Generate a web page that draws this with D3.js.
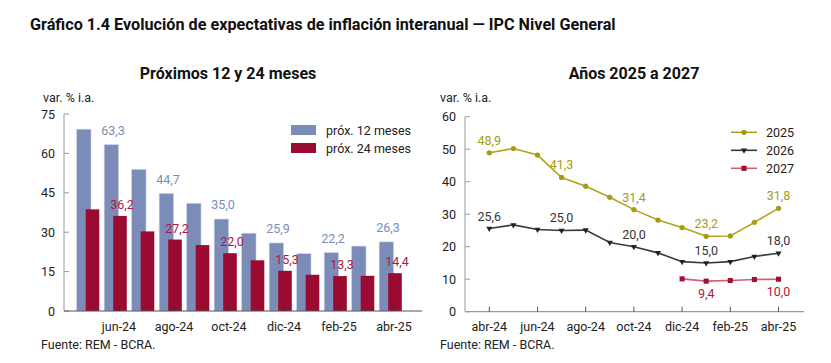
<!DOCTYPE html>
<html>
<head>
<meta charset="utf-8">
<script src="https://cdn.jsdelivr.net/npm/d3@7"></script>
<style>
  body { margin: 0; background: #fff; }
  svg { font-family: Roboto, "Noto Sans", sans-serif; }
</style>
</head>
<body>
<svg id="chart" width="831" height="363"></svg>
<script>
// data
var barMonths = ["may-24", "jun-24", "jul-24", "ago-24", "sep-24", "oct-24", "nov-24", "dic-24", "ene-25", "feb-25", "mar-25", "abr-25"];
var prox12 = [69.2, 63.3, 53.9, 44.7, 41.0, 35.0, 29.6, 25.9, 21.8, 22.2, 24.7, 26.3];
var prox24 = [38.7, 36.2, 30.3, 27.2, 25.1, 22.0, 19.3, 15.3, 13.8, 13.3, 13.4, 14.4];
var barTicks = [0, 15, 30, 45, 60, 75];

var lineMonths = ["abr-24", "may-24", "jun-24", "jul-24", "ago-24", "sep-24", "oct-24", "nov-24", "dic-24", "ene-25", "feb-25", "mar-25", "abr-25"];
var y2025 = [48.9, 50.2, 48.2, 41.3, 38.6, 35.2, 31.4, 28.2, 25.9, 23.2, 23.3, 27.5, 31.8];
var y2026 = [25.6, 26.7, 25.3, 25.0, 25.1, 21.3, 20.0, 18.1, 15.4, 15.0, 15.4, 17.0, 18.0];
var y2027 = [null, null, null, null, null, null, null, null, 10.1, 9.4, 9.6, 9.9, 10.0];
var lineTicks = [0, 10, 20, 30, 40, 50, 60];

var BLUE = "#7b8cb8", RED = "#9b0a30";
var OLIVE = "#b0a41c", DARK = "#3a3a3a", PINK = "#cf5d79";

var svg = d3.select("#chart");

svg.append("text")
    .attr("x", 30).attr("y", 30)
    .style("font-size", "16.2px").style("font-weight", "bold").style("fill", "#111")
    .text("Gráfico 1.4 Evolución de expectativas de inflación interanual — IPC Nivel General");

function subtitle(x, txt) {
    svg.append("text")
        .attr("x", x).attr("y", 79)
        .attr("text-anchor", "middle")
        .style("font-size", "16px").style("font-weight", "bold").style("fill", "#111")
        .text(txt);
}
subtitle(228, "Próximos 12 y 24 meses");
subtitle(634, "Años 2025 a 2027");

function smallText(x, y, txt, anchor, color) {
    return svg.append("text")
        .attr("x", x).attr("y", y)
        .attr("text-anchor", anchor || "start")
        .style("font-size", "12.5px").style("fill", color || "#222")
        .text(txt);
}

// ---------- left chart: bars ----------
var yL = d3.scaleLinear().domain([0, 75]).range([311, 114]);
var xL = d3.scalePoint().domain(barMonths).range([91.5, 394]);

smallText(43, 102, "var. % i.a.");

var left = svg.append("g");

left.selectAll(".b12")
    .data(barMonths)
    .enter().append("rect")
    .attr("class", "b12")
    .attr("x", function (d) { return xL(d) - 14.8; })
    .attr("y", function (d, i) { return yL(prox12[i]); })
    .attr("width", 14.3)
    .attr("height", function (d, i) { return yL(0) - yL(prox12[i]); })
    .style("fill", BLUE)
    .style("stroke", "#c6cde0").style("stroke-width", 0.6);

left.selectAll(".b24")
    .data(barMonths)
    .enter().append("rect")
    .attr("class", "b24")
    .attr("x", function (d) { return xL(d) - 5.8; })
    .attr("y", function (d, i) { return yL(prox24[i]); })
    .attr("width", 13.6)
    .attr("height", function (d, i) { return yL(0) - yL(prox24[i]); })
    .style("fill", RED);

// value labels every other month
barMonths.forEach(function (m, i) {
    if (i % 2 == 1) {
        smallText(xL(m) - 6, yL(prox12[i]) - 10, d3.format(".1f")(prox12[i]).replace(".", ","), "middle", BLUE);
        smallText(xL(m) + 3, yL(prox24[i]) - 7, d3.format(".1f")(prox24[i]).replace(".", ","), "middle", "#b0163f");
    }
});

// y axis
left.append("line").attr("x1", 64).attr("x2", 64).attr("y1", yL(75)).attr("y2", yL(0))
    .style("stroke", "#9a9a9a").style("stroke-width", 1);
barTicks.forEach(function (t) {
    left.append("line").attr("x1", 64).attr("x2", 69).attr("y1", yL(t)).attr("y2", yL(t))
        .style("stroke", "#9a9a9a");
    smallText(55, yL(t) + 4.5, t, "end");
});
// x axis
left.append("line").attr("x1", 64).attr("x2", 422).attr("y1", yL(0)).attr("y2", yL(0))
    .style("stroke", "#555").style("stroke-width", 1.2);
barMonths.forEach(function (m, i) {
    if (i % 2 == 1) {
        left.append("line").attr("x1", xL(m)).attr("x2", xL(m)).attr("y1", yL(0)).attr("y2", yL(0) - 5)
            .style("stroke", "#333");
        smallText(xL(m), 331, m, "middle");
    }
});

// legend
var legL = [["próx. 12 meses", BLUE], ["próx. 24 meses", RED]];
legL.forEach(function (d, i) {
    var yy = 130 + i * 18;
    left.append("rect").attr("x", 291).attr("y", yy - 5).attr("width", 25).attr("height", 10).style("fill", d[1]);
    smallText(326, yy + 4.5, d[0]);
});

smallText(41, 349, "Fuente: REM - BCRA.");

// ---------- right chart: lines ----------
var yR = d3.scaleLinear().domain([0, 60]).range([311.7, 116.7]);
var xR = d3.scalePoint().domain(lineMonths).range([489.3, 778.5]);

smallText(440, 102, "var. % i.a.");

var right = svg.append("g");

right.append("line").attr("x1", 465).attr("x2", 465).attr("y1", yR(60)).attr("y2", yR(0))
    .style("stroke", "#9a9a9a");
lineTicks.forEach(function (t) {
    right.append("line").attr("x1", 465).attr("x2", 470).attr("y1", yR(t)).attr("y2", yR(t))
        .style("stroke", "#9a9a9a");
    smallText(456, yR(t) + 4.5, t, "end");
});
right.append("line").attr("x1", 465).attr("x2", 804).attr("y1", yR(0)).attr("y2", yR(0))
    .style("stroke", "#999").style("stroke-width", 1.2);
lineMonths.forEach(function (m, i) {
    if (i % 2 == 0) {
        right.append("line").attr("x1", xR(m)).attr("x2", xR(m)).attr("y1", yR(0)).attr("y2", yR(0) - 5)
            .style("stroke", "#555");
        smallText(xR(m), 331, m, "middle");
    }
});

var series = [
    { name: "2025", values: y2025, line: OLIVE, mark: "#a89a12", symbol: d3.symbolCircle, size: 22, lab: "#a89a12", dy: -8 },
    { name: "2026", values: y2026, line: DARK, mark: "#222", symbol: d3.symbolTriangle, size: 16, lab: "#333", dy: -8, flip: true },
    { name: "2027", values: y2027, line: PINK, mark: "#a0102f", symbol: d3.symbolSquare, size: 26, lab: "#b0163f", dy: 17 }
];

var line = d3.line()
    .defined(function (d) { return d != null; })
    .x(function (d, i) { return xR(lineMonths[i]); })
    .y(function (d) { return yR(d); });

series.forEach(function (s) {
    right.append("path")
        .attr("d", line(s.values))
        .style("fill", "none").style("stroke", s.line).style("stroke-width", 1.6);
    s.values.forEach(function (v, i) {
        if (v == null) return;
        right.append("path")
            .attr("d", d3.symbol().type(s.symbol).size(s.size)())
            .attr("transform", "translate(" + xR(lineMonths[i]) + "," + yR(v) + ")" + (s.flip ? " rotate(180)" : ""))
            .style("fill", s.mark);
        if (i % 3 == 0) {
            smallText(xR(lineMonths[i]), yR(v) + s.dy, d3.format(".1f")(v).replace(".", ","), "middle", s.lab);
        }
    });
});

// legend
series.forEach(function (s, i) {
    var yy = 132.3 + i * 18;
    right.append("line").attr("x1", 731).attr("x2", 757).attr("y1", yy).attr("y2", yy)
        .style("stroke", s.line).style("stroke-width", 1.6);
    right.append("path")
        .attr("d", d3.symbol().type(s.symbol).size(s.size)())
        .attr("transform", "translate(744," + yy + ")" + (s.flip ? " rotate(180)" : ""))
        .style("fill", s.mark);
    smallText(766, yy + 4.5, s.name);
});

smallText(440, 349, "Fuente: REM - BCRA.");
</script>
</body>
</html>
